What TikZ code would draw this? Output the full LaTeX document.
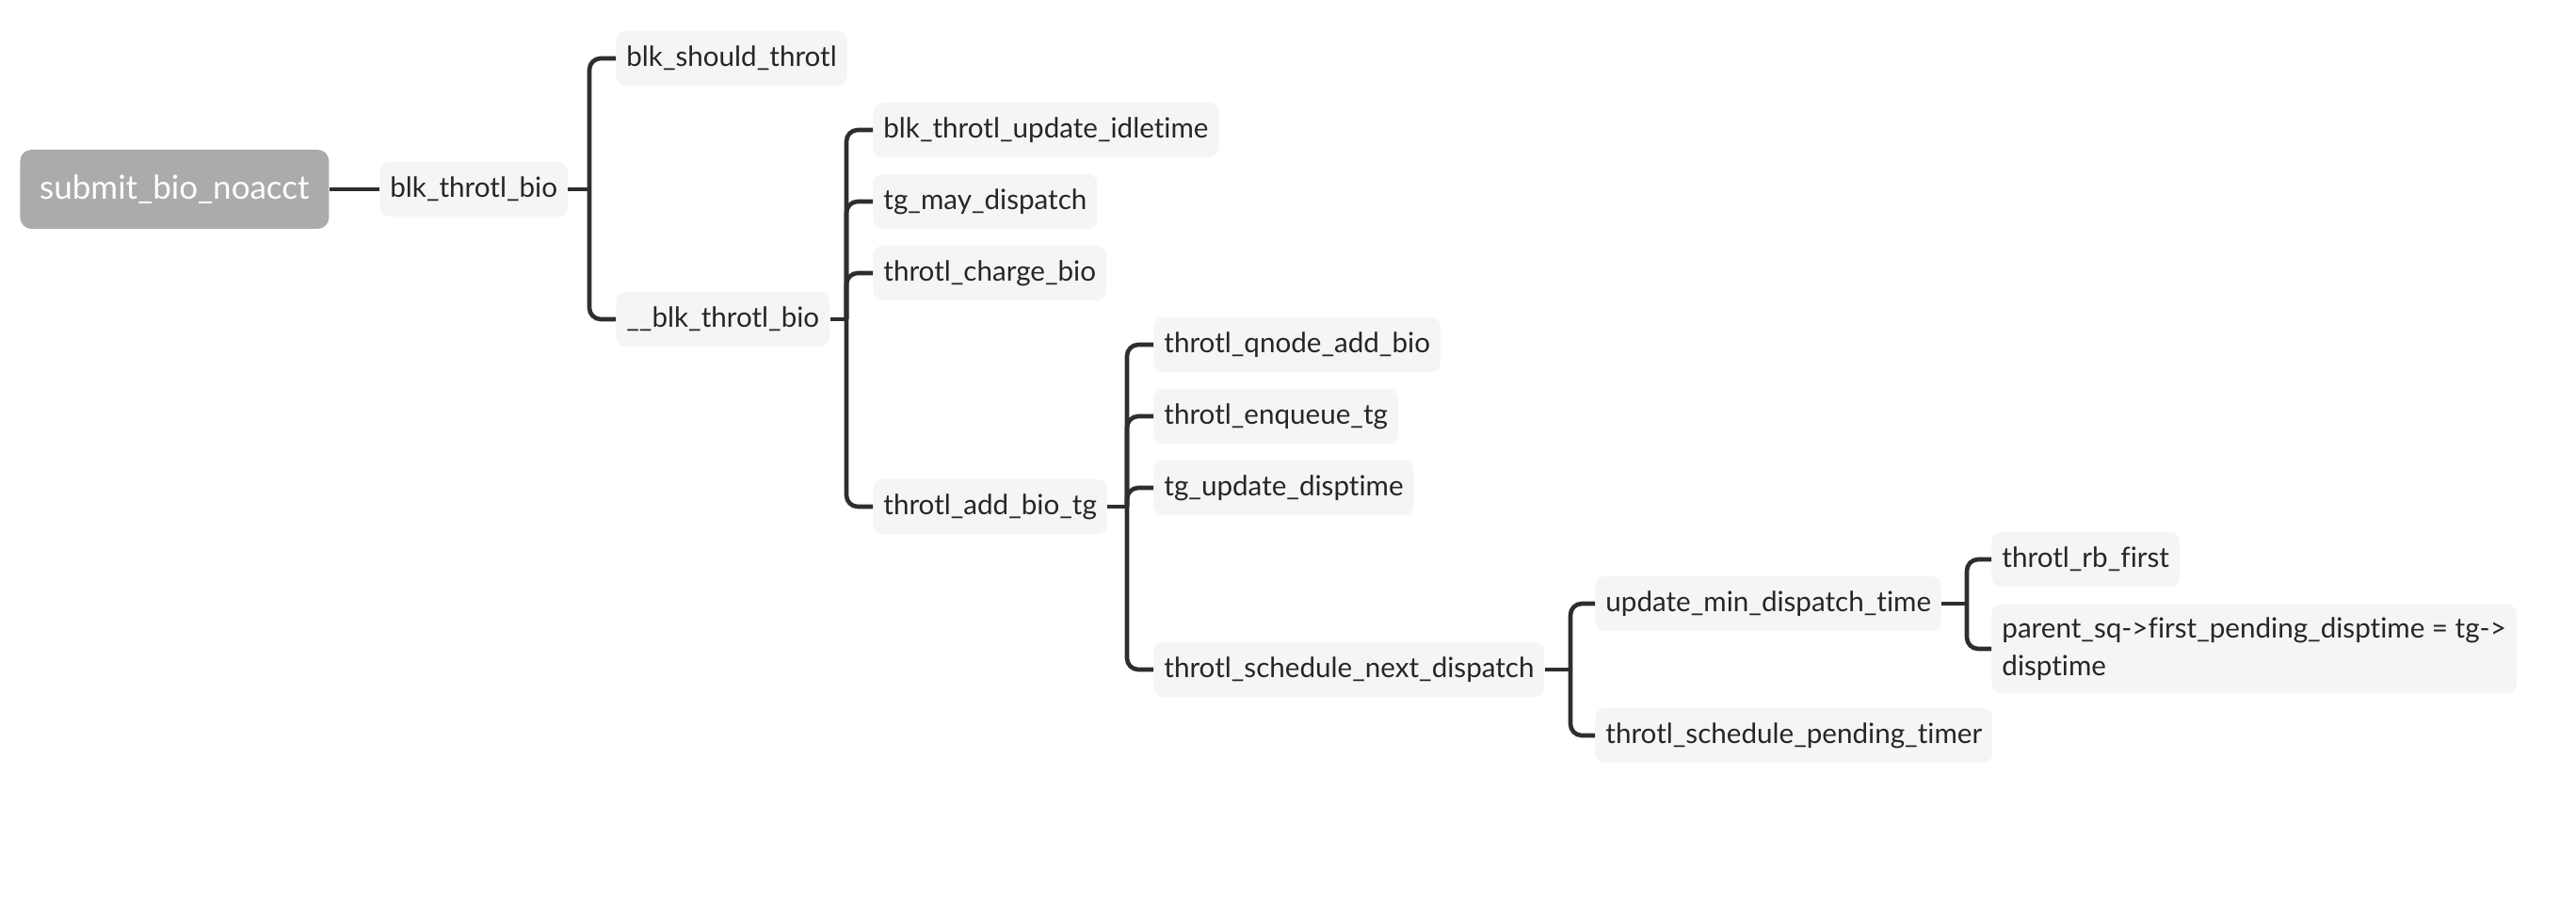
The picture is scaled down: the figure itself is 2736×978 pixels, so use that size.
\documentclass[tikz,border=0pt]{standalone}
\usepackage{fontspec}
\setmainfont{Lato}[Ligatures=NoCommon]
\definecolor{linecol}{HTML}{2E2E2E}
\definecolor{boxfill}{HTML}{F5F5F5}
\definecolor{rootfill}{HTML}{ABABAB}
\definecolor{textcol}{HTML}{262626}

\begin{document}
\begin{tikzpicture}[x=0.5pt,y=-0.5pt,
    fn/.style={fill=boxfill, rounded corners=5pt, anchor=west, minimum height=29pt,
      inner xsep=5.5pt, inner ysep=0pt, text=textcol, font=\fontsize{14.8}{20}\selectfont},
    root/.style={fill=rootfill, rounded corners=6pt, anchor=west, minimum height=42pt,
      minimum width=164pt, text=white, font=\fontsize{17.5}{21}\selectfont},
    link/.style={draw=linecol, line width=2.3pt},
    branch/.style={link, rounded corners=6pt}]
    \useasboundingbox (0,0) rectangle (2736,978);

    % call tree, left to right
    \node[root] (submit) at (21,201) {submit\_bio\_noacct};
    \node[fn] (bio) at (403,201) {blk\_throtl\_bio};
    \node[fn] (should) at (654,62) {blk\_should\_throtl};
    \node[fn] (inner) at (654,339) {\_\_blk\_throtl\_bio};
    \node[fn] (idle) at (927,138) {blk\_throtl\_update\_idletime};
    \node[fn] (may) at (927,214) {tg\_may\_dispatch};
    \node[fn] (charge) at (927,290) {throtl\_charge\_bio};
    \node[fn] (addbio) at (927,538) {throtl\_add\_bio\_tg};
    \node[fn] (qnode) at (1225,366) {throtl\_qnode\_add\_bio};
    \node[fn] (enqueue) at (1225,442) {throtl\_enqueue\_tg};
    \node[fn] (disptime) at (1225,518) {tg\_update\_disptime};
    \node[fn] (nextdisp) at (1225,711) {throtl\_schedule\_next\_dispatch};
    \node[fn] (mintime) at (1694,641) {update\_min\_dispatch\_time};
    \node[fn] (pending) at (1694,781) {throtl\_schedule\_pending\_timer};
    \node[fn] (rbfirst) at (2115,594) {throtl\_rb\_first};
    \node[fn, align=left, inner ysep=7pt] (parentsq) at (2115,689)
      {parent\_sq->first\_pending\_disptime = tg->\\disptime};

    % junctions on the buses
    \coordinate (j1) at (626,201);
    \coordinate (j2) at (899,339);
    \coordinate (j3) at (1197,538);
    \coordinate (j4) at (1668,711);
    \coordinate (j5) at (2089,641);

    \draw[link] (submit.east) -- (bio.west);
    \draw[link] (bio.east) -- (j1);
    \draw[link] (inner.east) -- (j2);
    \draw[link] (addbio.east) -- (j3);
    \draw[link] (nextdisp.east) -- (j4);
    \draw[link] (mintime.east) -- (j5);

    \foreach \c in {should,inner} \draw[branch] (j1) |- (\c.west);
    \foreach \c in {idle,may,charge,addbio} \draw[branch] (j2) |- (\c.west);
    \foreach \c in {qnode,enqueue,disptime,nextdisp} \draw[branch] (j3) |- (\c.west);
    \foreach \c in {mintime,pending} \draw[branch] (j4) |- (\c.west);
    \foreach \c in {rbfirst,parentsq} \draw[branch] (j5) |- (\c.west);
  \end{tikzpicture}
\end{document}
